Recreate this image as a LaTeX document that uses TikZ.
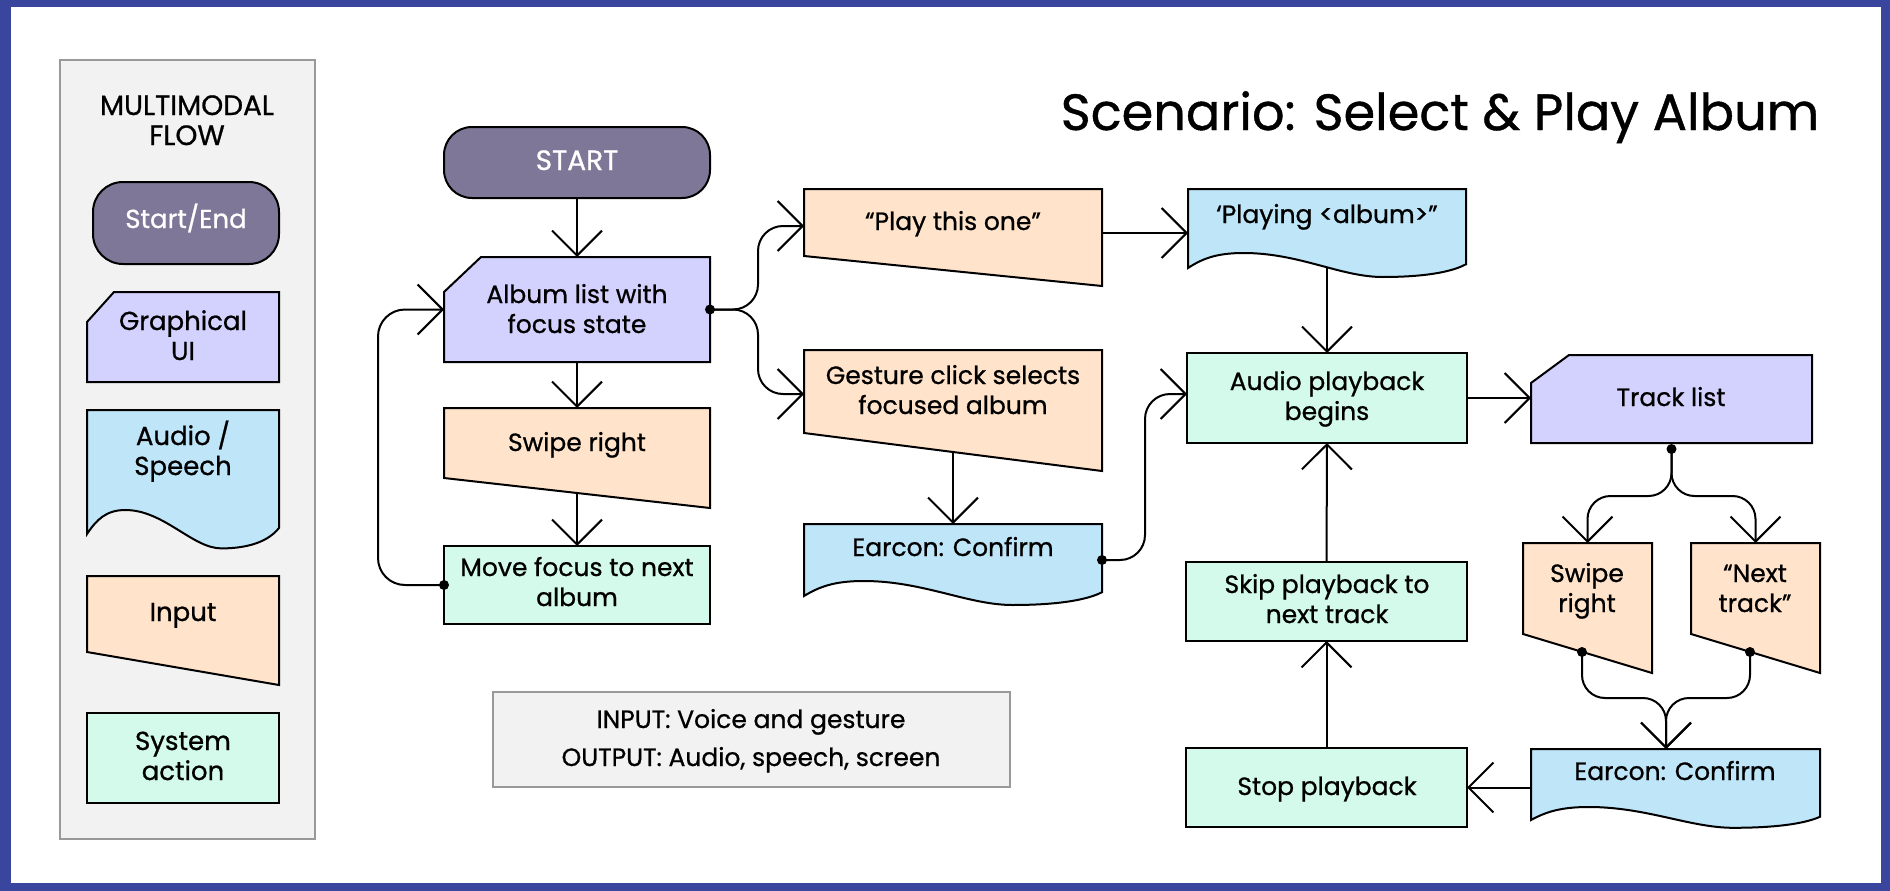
\documentclass[tikz,border=0pt]{standalone}
\usepackage{fontspec}
\setmainfont{Poppins}[FakeBold=0.8]
\usetikzlibrary{arrows.meta}
\pgfdeclarelayer{back}
\pgfdeclarelayer{conn}
\pgfdeclarelayer{shapes}
\pgfsetlayers{back,conn,shapes,main}
\definecolor{frameblue}{RGB}{58,70,158}
\definecolor{sefill}{RGB}{127,119,151}
\definecolor{guifill}{RGB}{211,209,254}
\definecolor{audfill}{RGB}{190,229,248}
\definecolor{inpfill}{RGB}{255,227,202}
\definecolor{sysfill}{RGB}{211,250,234}
\definecolor{panelfill}{RGB}{242,242,242}
\definecolor{panelline}{RGB}{153,153,153}
\tikzset{
  anch/.style={rectangle, inner sep=0pt, outer sep=0pt, draw=none},
  txt/.style={anchor=base, align=center, inner sep=0pt, font=\fontsize{25}{30}\selectfont},
  ltxt/.style={txt, font=\fontsize{26}{30}\selectfont},
  htxt/.style={txt, font=\fontsize{28}{30}\selectfont},
  wtxt/.style={txt, text=white, font=\fontsize{28}{30}\selectfont},
  lwtxt/.style={ltxt, text=white},
  shp/.style={draw=black, line width=2pt, line join=miter},
  panel/.style={fill=panelfill, draw=panelline, line width=2pt},
  conn/.style={line width=2pt, draw=black},
  arr/.style={conn, -{Straight Barb[length=25pt,width=50pt]}},
  dot/.style={fill=black}
}
\newcommand\mkbox[5]{\node[anch, minimum width={#4-#2}, minimum height={#5-#3}] (#1) at ({(#2+#4)/2},{(#3+#5)/2}) {};}
\newcommand\mktext[5][txt]{\node[#1] (#2) at (#3,#4) {#5};}
\newcommand\docshape[6]{%
  \pgfmathsetmacro\dwid{#4-#2}%
  \filldraw[shp, fill=#1] (#2,#3) -- (#4,#3) -- (#4,{#5-0.25*#6})
   .. controls ({#2+0.93*\dwid},{#5+0.45*#6}) and ({#2+0.8*\dwid},{#5+0.6*#6}) .. ({#2+0.7*\dwid},{#5+0.6*#6})
   .. controls ({#2+0.55*\dwid},{#5+0.6*#6}) and ({#2+0.4*\dwid},{#5-#6}) .. ({#2+0.2*\dwid},{#5-#6})
   .. controls ({#2+0.1*\dwid},{#5-#6}) and ({#2+0.05*\dwid},{#5-0.6*#6}) .. (#2,#5) -- cycle;}
\newcommand\inshape[5]{\filldraw[shp, fill=inpfill] (#1,#2) -- (#3,#2) -- (#3,#4) -- (#1,#5) -- cycle;}
\newcommand\guishape[6]{\filldraw[shp, fill=guifill] (#1,#4) -- (#3,#4) -- (#3,#2) -- ({#1+#5},#2) -- (#1,{#2+#6}) -- cycle;}
\begin{document}
\begin{tikzpicture}[x=1pt,y=-1pt]
\useasboundingbox (0,0) rectangle (1890,891);
\begin{pgfonlayer}{back}
\fill[frameblue] (0,0) rectangle (1890,891);
\fill[white] (11,7) rectangle (1881,883);
\end{pgfonlayer}
% geometry nodes
\mkbox{legend}{60}{60}{315}{839}
\mkbox{lgse}{93}{182}{279}{264}
\mkbox{lggui}{87}{292}{279}{382}
\mkbox{lgaud}{87}{410}{279}{534}
\mkbox{lginp}{87}{576}{279}{685}
\mkbox{lgsys}{87}{713}{279}{803}
\mkbox{start}{444}{127}{710}{198}
\mkbox{album}{444}{257}{710}{362}
\mkbox{swipe}{444}{408}{710}{508}
\mkbox{move}{444}{546}{710}{624}
\mkbox{play}{804}{189}{1102}{286}
\mkbox{gesture}{804}{350}{1102}{471}
\mkbox{ecA}{804}{524}{1102}{596}
\mkbox{playing}{1188}{189}{1466}{268}
\mkbox{audio}{1187}{353}{1467}{443}
\mkbox{skip}{1186}{562}{1467}{641}
\mkbox{stop}{1186}{748}{1467}{827}
\mkbox{track}{1531}{355}{1812}{443}
\mkbox{swipeB}{1523}{543}{1652}{673}
\mkbox{nextB}{1691}{543}{1820}{673}
\mkbox{ecB}{1531}{749}{1820}{820}
\mkbox{info}{493}{692}{1010}{787}
% shapes
\begin{pgfonlayer}{shapes}
\filldraw[panel] (legend.north west) rectangle (legend.south east);
\filldraw[panel] (info.north west) rectangle (info.south east);
\filldraw[shp, fill=sefill, rounded corners=30pt] (lgse.north west) rectangle (lgse.south east);
\guishape{87}{292}{279}{382}{27}{30}
\docshape{audfill}{87}{410}{279}{534}{24}
\inshape{87}{576}{279}{685}{652}
\filldraw[shp, fill=sysfill] (lgsys.north west) rectangle (lgsys.south east);
\filldraw[shp, fill=sefill, rounded corners=28pt] (start.north west) rectangle (start.south east);
\guishape{444}{257}{710}{362}{37}{35}
\inshape{444}{408}{710}{508}{478}
\filldraw[shp, fill=sysfill] (move.north west) rectangle (move.south east);
\inshape{804}{189}{1102}{286}{256}
\inshape{804}{350}{1102}{471}{433}
\docshape{audfill}{804}{524}{1102}{596}{15}
\docshape{audfill}{1188}{189}{1466}{268}{15}
\filldraw[shp, fill=sysfill] (audio.north west) rectangle (audio.south east);
\filldraw[shp, fill=sysfill] (skip.north west) rectangle (skip.south east);
\filldraw[shp, fill=sysfill] (stop.north west) rectangle (stop.south east);
\guishape{1531}{355}{1812}{443}{38}{28}
\inshape{1523}{543}{1652}{673}{634}
\inshape{1691}{543}{1820}{673}{634}
\docshape{audfill}{1531}{749}{1820}{820}{13}
\end{pgfonlayer}
% connectors
\begin{pgfonlayer}{conn}
\draw[arr] (start.south) -- (album.north);
\draw[arr] (album.south) -- (swipe.north);
\draw[arr] (swipe.center) -- (move.north);
\coordinate (loopc) at (378,450);
\draw[arr, rounded corners=27pt] (move.west) -| (loopc) |- (album.west);
\coordinate (forkA) at (758,309.5);
\draw[arr, rounded corners=25pt] (album.east) -- (forkA) |- ([yshift=11.5pt]play.west);
\draw[arr, rounded corners=25pt] (album.east) -- (forkA) |- ([yshift=16.5pt]gesture.west);
\draw[arr] (gesture.center) -- (ecA.north);
\draw[arr] ([yshift=4.5pt]play.east) -- ([yshift=-4.5pt]playing.west);
\draw[arr] (playing.center) -- (audio.north);
\coordinate (forkB) at (1145,560);
\draw[arr, rounded corners=25pt] (ecA.east) -- (forkB) |- ([yshift=4pt]audio.west);
\draw[arr] (audio.east) -- (audio.east -| track.west);
\draw[arr] (skip.north) -- (audio.south);
\draw[arr] (stop.north) -- (skip.south);
\draw[arr] (stop.east -| ecB.west) -- (stop.east);
\coordinate (trackdot) at (1671.5,449);
\coordinate (forkC) at (1671.5,496);
\draw[arr, rounded corners=23pt] (trackdot) -- (forkC) -| (swipeB.north);
\draw[arr, rounded corners=23pt] (trackdot) -- (forkC) -| (nextB.north);
\coordinate (swdot) at (1582,652);
\coordinate (ntdot) at (1750,652);
\coordinate (merge) at (1666,698);
\draw[arr, rounded corners=23pt] (swdot) |- (merge) -- (merge |- ecB.north);
\draw[arr, rounded corners=23pt] (ntdot) |- (merge) -- (merge |- ecB.north);
\end{pgfonlayer}
% dots
\fill[dot] (album.east) circle (5pt);
\fill[dot] (move.west) circle (5pt);
\fill[dot] (ecA.east) circle (5pt);
\fill[dot] (trackdot) circle (5pt);
\fill[dot] (swdot) circle (5pt);
\fill[dot] (ntdot) circle (5pt);
% texts (base = baseline of the last line)
\mktext[htxt]{t-legend}{187}{145}{MULTIMODAL\\FLOW}
\mktext[lwtxt]{t-lgse}{186}{228}{Start/End}
\mktext[ltxt]{t-lggui}{183}{360}{Graphical\\UI}
\mktext[ltxt]{t-lgaud}{183}{475}{Audio /\\Speech}
\mktext[ltxt]{t-lginp}{183}{621}{Input}
\mktext[ltxt]{t-lgsys}{183}{780}{System\\action}
\mktext[wtxt]{t-start}{577}{170}{START}
\mktext{t-album}{577}{333}{Album list with\\focus state}
\mktext{t-swipe}{577}{451}{Swipe right}
\mktext{t-move}{577}{606}{Move focus to next\\album}
\mktext{t-play}{953}{230}{“Play this one”}
\mktext{t-gesture}{953}{414}{Gesture click selects\\focused album}
\mktext{t-ecA}{953}{556}{Earcon: Confirm}
\mktext{t-playing}{1327}{223}{‘Playing <album>”}
\mktext{t-audio}{1327}{420}{Audio playback\\begins}
\mktext{t-skip}{1327}{623}{Skip playback to\\next track}
\mktext{t-stop}{1327}{795}{Stop playback}
\mktext{t-track}{1671}{406}{Track list}
\mktext{t-swipeB}{1587}{612}{Swipe\\right}
\mktext{t-nextB}{1755}{612}{“Next\\track”}
\mktext{t-ecB}{1675}{780}{Earcon: Confirm}
\node[txt, font=\fontsize{25}{38}\selectfont] (t-info) at (751,766) {INPUT: Voice and gesture\\OUTPUT: Audio, speech, screen};
\node[anchor=base, inner sep=0pt, font=\fontsize{51}{60}\selectfont] (title) at (1440,130) {Scenario: Select \& Play Album};
\end{tikzpicture}
\end{document}
